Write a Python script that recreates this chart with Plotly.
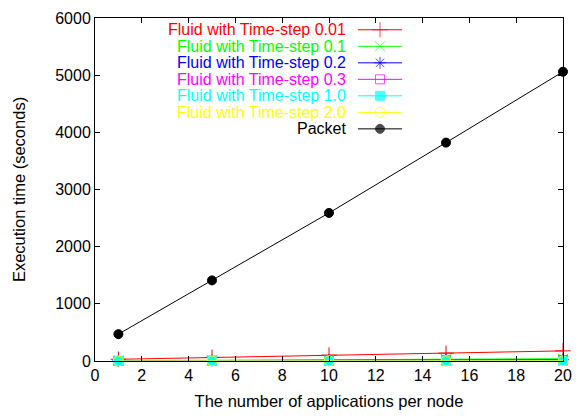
import plotly.graph_objects as go

apps = [1, 5, 10, 15, 20]
series_names = ["Fluid with Time-step 0.01", "Fluid with Time-step 0.1",
                "Fluid with Time-step 0.2", "Fluid with Time-step 0.3",
                "Fluid with Time-step 1.0", "Fluid with Time-step 2.0", "Packet"]
fluid_001 = [30, 63, 103, 137, 177]
fluid_01 = [6, 12, 22, 30, 40]
fluid_02 = [3, 7, 12, 17, 22]
fluid_03 = [2, 5, 8, 11, 15]
fluid_10 = [1, 2, 3, 4, 5]
fluid_20 = [0.5, 1, 2, 3, 3]
packet = [470, 1410, 2590, 3820, 5060]

x_ticks = list(range(0, 21, 2))
y_ticks = list(range(0, 6001, 1000))

values = [fluid_001, fluid_01, fluid_02, fluid_03, fluid_10, fluid_20, packet]
colors = ["#ff0000", "#00ff00", "#0000ff", "#ff00ff", "#00ffff", "#ffff00", "#000000"]
symbols = ["cross-thin", "x-thin", "asterisk-open", "square-open", "square", "circle-open", "circle"]
msizes = [11, 10, 10, 9, 9, 10, 9]

W, H = 582, 418
ML, MR, MT, MB = 95, 10, 13, 56
FONT = "Liberation Sans, Arial"

fig = go.Figure()
for name, v, c, s, ms in zip(series_names, values, colors, symbols, msizes):
    fig.add_trace(go.Scatter(
        x=apps, y=v, mode="lines+markers", name=name,
        line=dict(color=c, width=1),
        marker=dict(symbol=s, size=ms, color=c, line=dict(color=c, width=1)),
        showlegend=False, cliponaxis=False))

# gnuplot-style key: text right-aligned, sample on the right (overlay axis in pixels)
row0, dy = 25, 16.8
text_right = 353
sample_x0, sample_x1 = 363, 408
for i, (name, c, s, ms) in enumerate(zip(series_names, colors, symbols, msizes)):
    yy = row0 + i * dy
    fig.add_trace(go.Scatter(
        x=[sample_x0, (sample_x0 + sample_x1) / 2, sample_x1], y=[yy, yy, yy],
        mode="lines+markers", xaxis="x2", yaxis="y2", showlegend=False,
        line=dict(color=c, width=1),
        marker=dict(symbol=s, size=[0, ms, 0], color=c, line=dict(color=c, width=1)),
        hoverinfo="skip"))
    fig.add_annotation(x=text_right, y=yy, xref="x2", yref="y2", text=name,
                       showarrow=False, xanchor="right", yanchor="middle",
                       font=dict(family=FONT, size=16, color=c))

axis_common = dict(showline=True, linecolor="black", linewidth=1, mirror="ticks",
                   ticks="inside", ticklen=5, tickcolor="black", showgrid=False,
                   zeroline=False,
                   tickfont=dict(family=FONT, size=16, color="black"))
fig.update_layout(
    width=W, height=H,
    margin=dict(l=ML, r=MR, t=MT, b=MB),
    paper_bgcolor="white", plot_bgcolor="white",
    xaxis=dict(range=[0, 20], tickvals=x_ticks,
               title=dict(text="The number of applications per node", standoff=12,
                          font=dict(family=FONT, size=16.5, color="black")),
               **axis_common),
    yaxis=dict(range=[0, 6000], tickvals=y_ticks,
               title=dict(text="Execution time (seconds)", standoff=25,
                          font=dict(family=FONT, size=16.5, color="black")),
               **axis_common),
    xaxis2=dict(overlaying="x", range=[ML, W - MR], visible=False, fixedrange=True),
    yaxis2=dict(overlaying="y", range=[H - MB, MT], visible=False, fixedrange=True),
)

fig.write_html("out.html")
